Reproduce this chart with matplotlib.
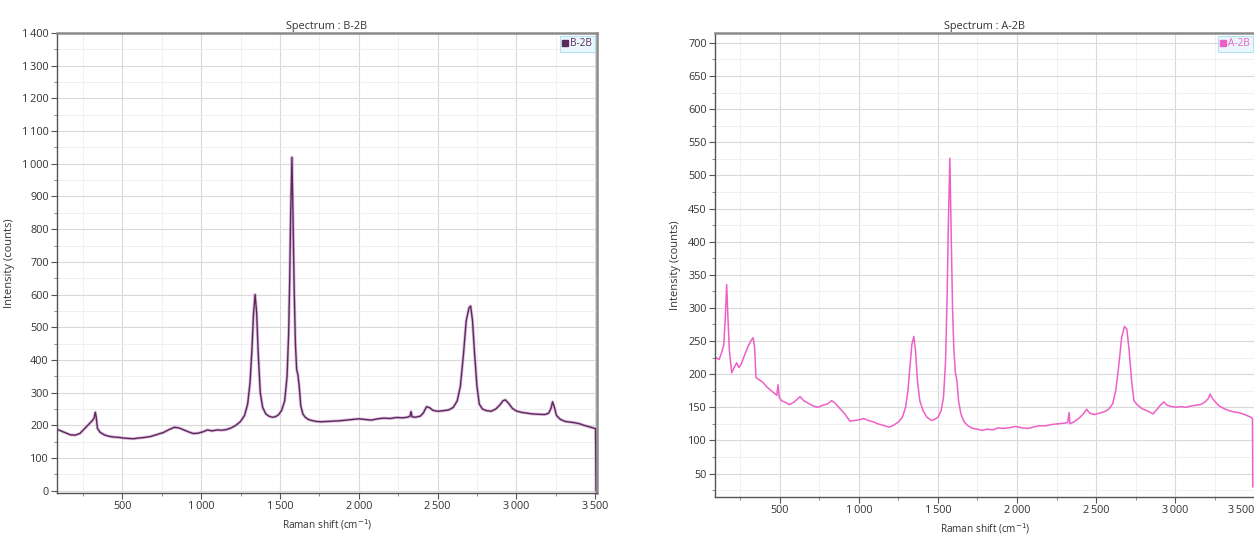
import matplotlib
matplotlib.use("Agg")
import matplotlib.pyplot as plt
from matplotlib.ticker import MultipleLocator, FuncFormatter
from matplotlib.lines import Line2D

plt.rcParams['font.family'] = ['Open Sans', 'DejaVu Sans']

# ---- data: spectrum B-2B (left) ----
b_shift = [85, 110, 140, 170, 200, 230, 260, 290, 310, 320, 328, 334, 342, 360, 390, 420, 450, 480,
           510, 540, 570, 600, 640, 680, 720, 760, 800, 830, 860, 890, 920, 950, 980, 1010, 1040,
           1070, 1100, 1130, 1160, 1190, 1220, 1250, 1275, 1295, 1310, 1322, 1332, 1342, 1352, 1362,
           1375, 1390, 1410, 1430, 1450, 1470, 1490, 1510, 1530, 1545, 1555, 1562, 1568, 1576, 1582,
           1590, 1598, 1606, 1614, 1622, 1632, 1645, 1660, 1680, 1700, 1730, 1760, 1800, 1840, 1880,
           1920, 1960, 2000, 2040, 2080, 2120, 2160, 2200, 2240, 2280, 2310, 2325, 2332, 2338, 2360,
           2390, 2410, 2430, 2450, 2470, 2500, 2540, 2570, 2600, 2625, 2645, 2665, 2682, 2700, 2710,
           2722, 2735, 2750, 2765, 2785, 2810, 2840, 2870, 2895, 2915, 2930, 2950, 2975, 3000, 3030,
           3060, 3100, 3140, 3180, 3205, 3220, 3230, 3240, 3255, 3280, 3310, 3340, 3370, 3400, 3430,
           3460, 3490, 3503, 3506]
b_counts = [188, 183, 177, 171, 170, 175, 190, 205, 215, 222, 240, 225, 190, 178, 170, 166, 164, 163,
            161, 160, 159, 161, 163, 166, 172, 178, 188, 194, 192, 186, 180, 175, 176, 180, 186,
            183, 186, 185, 187, 192, 200, 212, 230, 265, 330, 430, 540, 600, 545, 420,
            300, 255, 235, 228, 225, 226, 232, 245, 275, 350, 480, 650, 850, 1020, 860,
            620, 450, 370, 355, 320, 260, 235, 225, 218, 215, 212, 211, 212, 213, 214,
            216, 218, 220, 218, 216, 220, 222, 221, 224, 223, 225, 228, 242, 226, 225,
            228, 238, 257, 254, 246, 243, 245, 247, 255, 275, 320, 420, 520, 560, 565,
            520, 420, 320, 265, 250, 245, 243, 250, 262, 275, 278, 268, 252, 244, 240,
            238, 235, 234, 233, 237, 252, 272, 258, 230, 218, 212, 210, 208, 205, 200,
            196, 192, 190, 0]

# ---- data: spectrum A-2B (right) ----
a_shift = [95, 115, 130, 145, 155, 163, 170, 180, 195, 210, 226, 240, 255, 275, 295, 315, 330, 340,
           348, 365, 390, 420, 445, 470, 480, 488, 495, 510, 530, 560, 590, 627, 650, 680, 710, 740,
           770, 800, 827, 850, 880, 910, 943, 970, 1000, 1030, 1060, 1090, 1120, 1150, 1190, 1220,
           1250, 1275, 1295, 1310, 1322, 1335, 1347, 1358, 1370, 1385, 1405, 1430, 1460, 1480, 1500,
           1520, 1535, 1548, 1558, 1566, 1575, 1583, 1592, 1600, 1610, 1620, 1630, 1645, 1665, 1690,
           1720, 1750, 1780, 1810, 1850, 1880, 1910, 1950, 1990, 2030, 2070, 2100, 2140, 2180, 2220,
           2260, 2300, 2320, 2330, 2335, 2360, 2390, 2420, 2441, 2460, 2490, 2520, 2550, 2580, 2605,
           2625, 2645, 2662, 2680, 2695, 2710, 2725, 2740, 2760, 2790, 2830, 2861, 2890, 2910, 2930,
           2950, 2980, 3010, 3040, 3070, 3100, 3130, 3160, 3190, 3210, 3222, 3235, 3255, 3280, 3310,
           3340, 3370, 3400, 3430, 3460, 3480, 3490, 3492]
a_counts = [225, 222, 232, 245, 290, 335, 290, 235, 202, 210, 217, 210, 215, 228, 240, 250, 255, 240,
            195, 192, 188, 180, 175, 170, 168, 184, 165, 160, 158, 154, 158, 166, 160, 156, 152, 150,
            153, 155, 160, 156, 148, 140, 129, 130, 131, 133, 130, 128, 125, 123, 120, 123,
            128, 135, 150, 175, 210, 245, 257, 235, 190, 160, 145, 135, 130, 132, 135,
            145, 165, 220, 320, 430, 526, 420, 300, 240, 202, 190, 160, 140, 128, 122,
            118, 117, 115, 117, 116, 119, 118, 119, 121, 119, 118, 120, 122, 122, 124,
            125, 126, 127, 142, 125, 128, 133, 140, 147, 141, 139, 141, 143, 147, 155,
            175, 215, 255, 272, 268, 235, 190, 160, 154, 148, 144, 140, 148, 154, 158,
            153, 151, 150, 151, 150, 152, 153, 154, 158, 163, 170, 164, 158, 152, 148,
            145, 143, 142, 140, 137, 135, 133, 30]

W, H = 1254, 535
fig = plt.figure(figsize=(W / 100, H / 100), dpi=100)
fig.patch.set_facecolor('white')


def fmt(v, pos):
    s = f"{int(round(v)):,}"
    return s.replace(",", "\u2009")


def style_axes(ax, xlim, ylim, ymajor, yminor, title, color, label):
    ax.set_xlim(*xlim)
    ax.set_ylim(*ylim)
    ax.xaxis.set_major_locator(MultipleLocator(500))
    ax.xaxis.set_minor_locator(MultipleLocator(250))
    ax.yaxis.set_major_locator(MultipleLocator(ymajor))
    ax.yaxis.set_minor_locator(MultipleLocator(yminor))
    ax.xaxis.set_major_formatter(FuncFormatter(fmt))
    ax.yaxis.set_major_formatter(FuncFormatter(fmt))
    ax.grid(True, which='major', color='#d9d9d9', lw=0.8)
    ax.grid(True, which='minor', color='#eeeeee', lw=0.6)
    ax.set_axisbelow(True)
    ax.tick_params(which='major', direction='out', length=4, width=0.8, color='#555555',
                   labelsize=7.8, labelcolor='#333333', pad=2)
    ax.tick_params(which='minor', direction='out', length=2, width=0.6, color='#777777')
    ax.tick_params(top=False, right=False, which='both')
    for s in ['left', 'bottom']:
        ax.spines[s].set_color('#555555')
        ax.spines[s].set_linewidth(1.0)
    for s in ['top', 'right']:
        ax.spines[s].set_color('#8a8a8a')
        ax.spines[s].set_linewidth(1.8)
    ax.set_title(title, fontsize=7.8, color='#333333', pad=3)
    ax.set_ylabel('Intensity (counts)', fontsize=8, color='#333333', labelpad=5)
    ax.set_xlabel('Raman shift (cm$^{-1}$)', fontsize=7.2, color='#333333', labelpad=4)
    h = Line2D([], [], marker='s', ls='none', color=color, markersize=4.5)
    leg = ax.legend([h], [label], loc='upper right', fontsize=7.2, frameon=True,
                    fancybox=False, borderpad=0.25, handlelength=0.6, handletextpad=0.2,
                    borderaxespad=0.25, labelcolor=color)
    leg.get_frame().set_facecolor('#e6f5fc')
    leg.get_frame().set_edgecolor('#a6dcf0')
    leg.get_frame().set_linewidth(0.8)


# left panel
axL = fig.add_axes([57 / W, 1 - 492.7 / H, (597 - 57) / W, (492.7 - 33) / H])
b_color = '#5a2a5c'
axL.plot(b_shift, b_counts, color='#c98fc9', lw=2.2, alpha=0.6, solid_joinstyle='round')
axL.plot(b_shift, b_counts, color=b_color, lw=1.0)
style_axes(axL, (85, 3512), (-6, 1400), 100, 50, 'Spectrum : B-2B', b_color, 'B-2B')

# right panel
axR = fig.add_axes([715 / W, 1 - 496.7 / H, (1255 - 715) / W, (496.7 - 33) / H])
a_color = '#ee5fc8'
axR.plot(a_shift, a_counts, color=a_color, lw=1.1)
style_axes(axR, (89, 3506), (15, 715), 50, 25, 'Spectrum : A-2B', a_color, 'A-2B')

# last x tick label of the cropped right panel is pushed inside the picture, as in the reference
fig.canvas.draw()
for lbl in axR.get_xticklabels():
    if lbl.get_text().startswith('3') and lbl.get_text().endswith('500'):
        lbl.set_horizontalalignment('right')

fig.savefig('out.png', dpi=100)
